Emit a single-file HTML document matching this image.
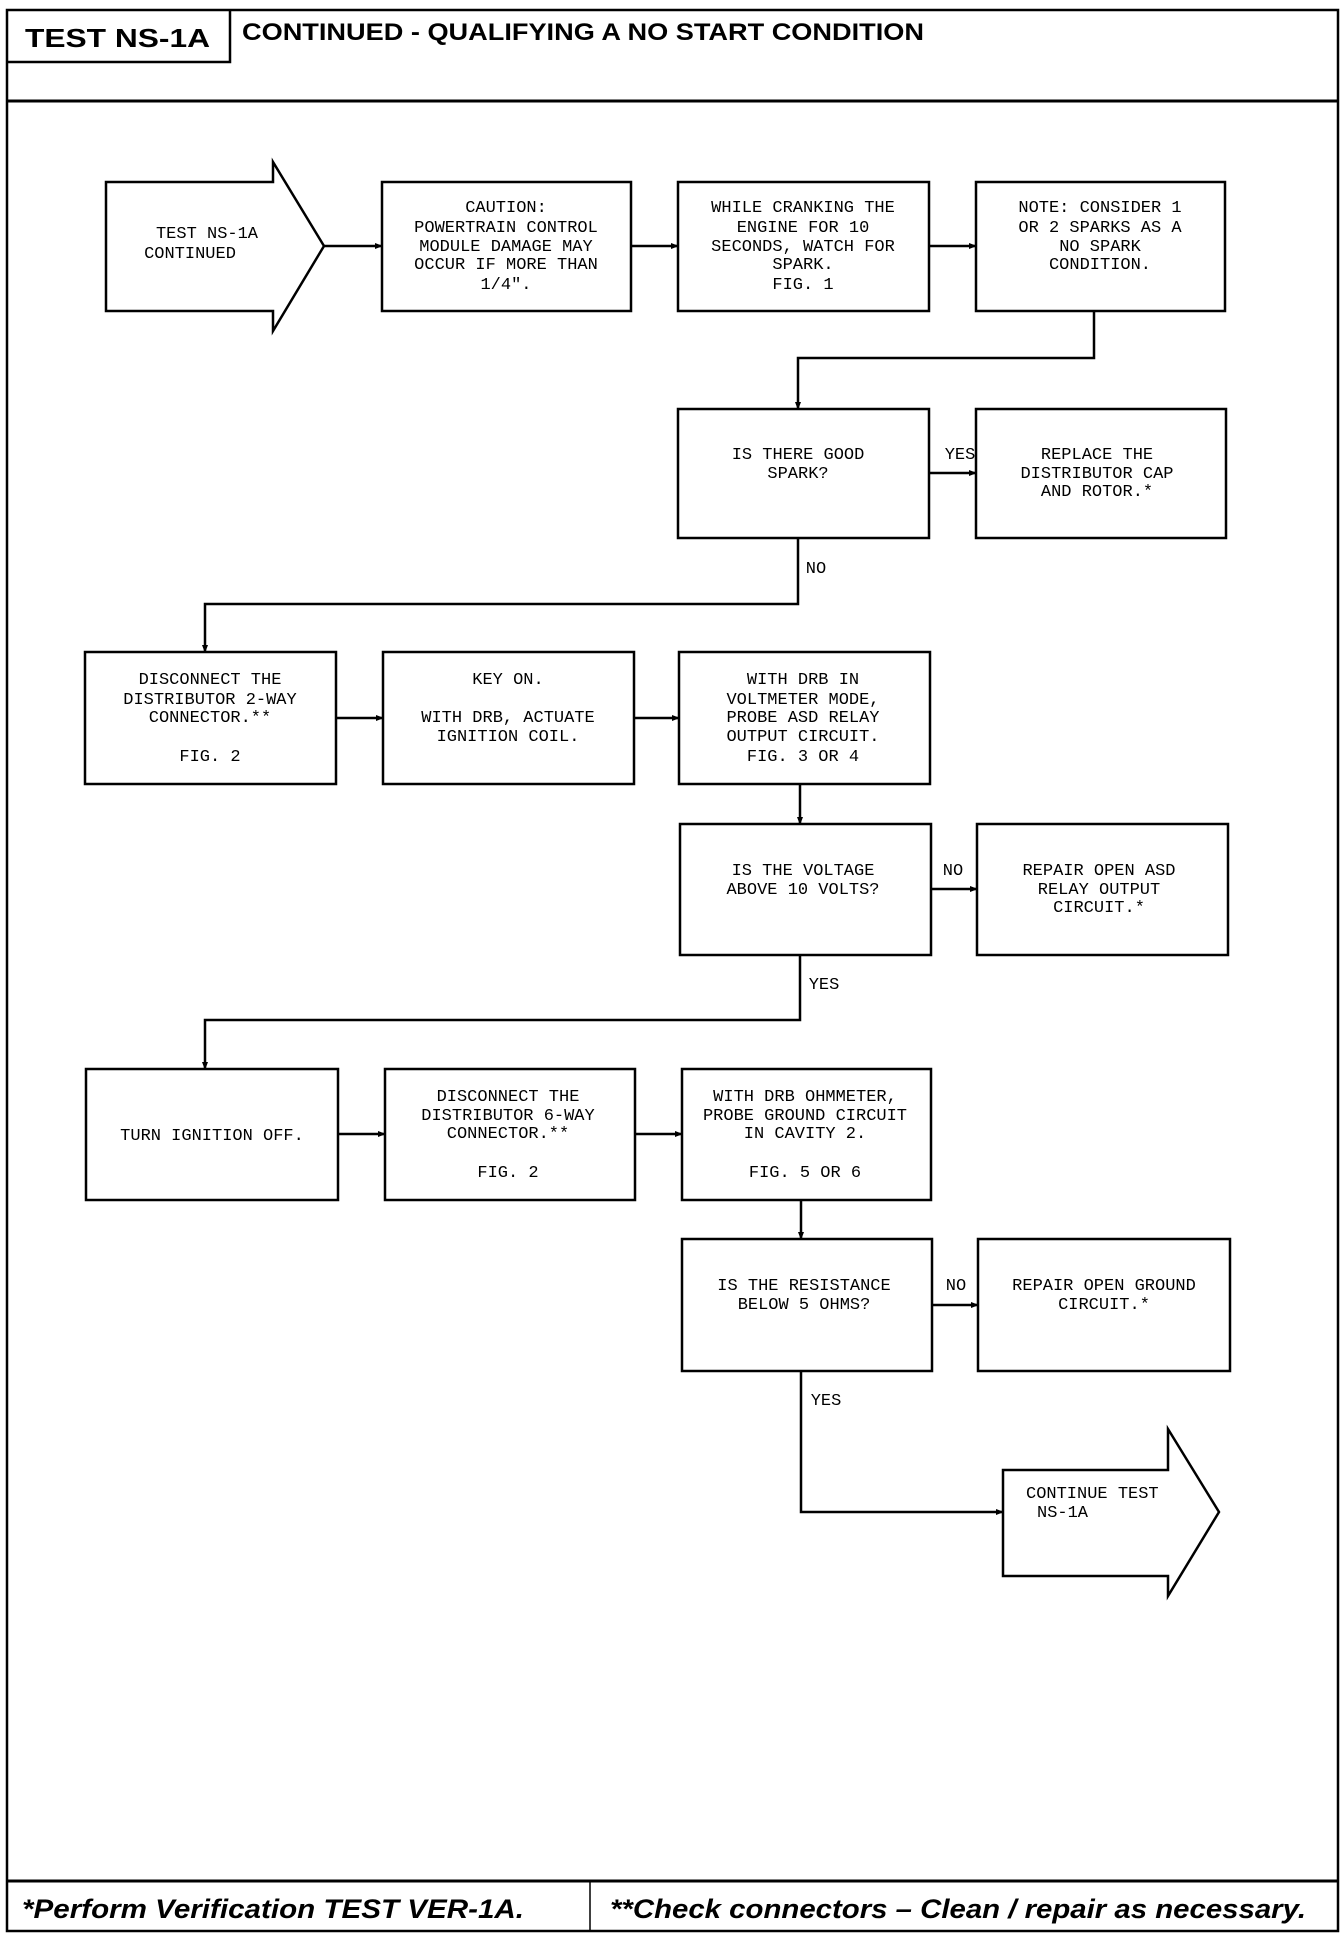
<!DOCTYPE html>
<html><head><meta charset="utf-8"><style>
html,body{margin:0;padding:0;background:#fff}
svg{display:block}
.t{font-family:"Liberation Mono",monospace;font-size:17px;fill:#000;text-anchor:middle}
.h{font-family:"Liberation Sans",sans-serif;font-weight:bold;fill:#000}
</style></head><body>
<svg width="1344" height="1934" viewBox="0 0 1344 1934" xmlns="http://www.w3.org/2000/svg">
<defs><marker id="a" markerWidth="8" markerHeight="8" refX="7" refY="4" orient="auto" markerUnits="userSpaceOnUse"><path d="M0,1 L8,4 L0,7 z" fill="#000"/></marker></defs>
<g fill="none" stroke="#000" stroke-width="2.5">
<rect x="7" y="10" width="1331" height="1921"/>
<line x1="7" y1="101" x2="1338" y2="101" stroke-width="3"/>
<polyline points="7,62 230,62 230,10"/>
<line x1="7" y1="1881" x2="1338" y2="1881" stroke-width="3"/>
<line x1="590" y1="1881" x2="590" y2="1931" stroke-width="1.5"/>
<!-- start arrow -->
<path d="M106,182 H273 V162 L324,246 L273,331 V311 H106 Z"/>
<rect x="382" y="182" width="249" height="129"/>
<rect x="678" y="182" width="251" height="129"/>
<rect x="976" y="182" width="249" height="129"/>
<rect x="678" y="409" width="251" height="129"/>
<rect x="976" y="409" width="250" height="129"/>
<rect x="85" y="652" width="251" height="132"/>
<rect x="383" y="652" width="251" height="132"/>
<rect x="679" y="652" width="251" height="132"/>
<rect x="680" y="824" width="251" height="131"/>
<rect x="977" y="824" width="251" height="131"/>
<rect x="86" y="1069" width="252" height="131"/>
<rect x="385" y="1069" width="250" height="131"/>
<rect x="682" y="1069" width="249" height="131"/>
<rect x="682" y="1239" width="250" height="132"/>
<rect x="978" y="1239" width="252" height="132"/>
<path d="M1003,1470 H1168 V1429 L1219,1512 L1168,1596 V1576 H1003 Z"/>
</g>
<g fill="none" stroke="#000" stroke-width="2.5" marker-end="url(#a)">
<line x1="324" y1="246" x2="382" y2="246"/>
<line x1="631" y1="246" x2="678" y2="246"/>
<line x1="929" y1="246" x2="976" y2="246"/>
<polyline points="1094,311 1094,358 798,358 798,409"/>
<line x1="929" y1="473" x2="976" y2="473"/>
<polyline points="798,538 798,604 205,604 205,652"/>
<line x1="336" y1="718" x2="383" y2="718"/>
<line x1="634" y1="718" x2="679" y2="718"/>
<line x1="800" y1="784" x2="800" y2="824"/>
<line x1="931" y1="889" x2="977" y2="889"/>
<polyline points="800,955 800,1020 205,1020 205,1069"/>
<line x1="338" y1="1134" x2="385" y2="1134"/>
<line x1="635" y1="1134" x2="682" y2="1134"/>
<line x1="801" y1="1200" x2="801" y2="1239"/>
<line x1="932" y1="1305" x2="978" y2="1305"/>
<polyline points="801,1371 801,1512 1003,1512"/>
</g>
<text class="h" x="25" y="47" font-size="26" textLength="185" lengthAdjust="spacingAndGlyphs">TEST NS-1A</text>
<text class="h" x="242" y="40" font-size="24" textLength="682" lengthAdjust="spacingAndGlyphs">CONTINUED -  QUALIFYING A NO START CONDITION</text>
<text class="h" x="22" y="1918" font-size="27" font-style="italic" textLength="502" lengthAdjust="spacingAndGlyphs">*Perform Verification TEST VER-1A.</text>
<text class="h" x="610" y="1918" font-size="27" font-style="italic" textLength="696" lengthAdjust="spacingAndGlyphs">**Check connectors – Clean / repair as necessary.</text>
<g class="t">
<text x="207" y="238">TEST NS-1A</text><text x="190" y="258">CONTINUED</text>
<text x="506" y="212">CAUTION:</text><text x="506" y="232">POWERTRAIN CONTROL</text><text x="506" y="251">MODULE DAMAGE MAY</text><text x="506" y="269">OCCUR IF MORE THAN</text><text x="506" y="289">1/4".</text>
<text x="803" y="212">WHILE CRANKING THE</text><text x="803" y="232">ENGINE FOR 10</text><text x="803" y="251">SECONDS, WATCH FOR</text><text x="803" y="269">SPARK.</text><text x="803" y="289">FIG. 1</text>
<text x="1100" y="212">NOTE: CONSIDER 1</text><text x="1100" y="232">OR 2 SPARKS AS A</text><text x="1100" y="251">NO SPARK</text><text x="1100" y="269">CONDITION.</text>
<text x="798" y="459">IS THERE GOOD</text><text x="798" y="478">SPARK?</text>
<text x="960" y="459">YES</text>
<text x="1097" y="459">REPLACE THE</text><text x="1097" y="478">DISTRIBUTOR CAP</text><text x="1097" y="496">AND ROTOR.*</text>
<text x="816" y="573">NO</text>
<text x="210" y="684">DISCONNECT THE</text><text x="210" y="704">DISTRIBUTOR 2-WAY</text><text x="210" y="722">CONNECTOR.**</text><text x="210" y="761">FIG. 2</text>
<text x="508" y="684">KEY ON.</text><text x="508" y="722">WITH DRB, ACTUATE</text><text x="508" y="741">IGNITION COIL.</text>
<text x="803" y="684">WITH DRB IN</text><text x="803" y="704">VOLTMETER MODE,</text><text x="803" y="722">PROBE ASD RELAY</text><text x="803" y="741">OUTPUT CIRCUIT.</text><text x="803" y="761">FIG. 3 OR 4</text>
<text x="803" y="875">IS THE VOLTAGE</text><text x="803" y="894">ABOVE 10 VOLTS?</text>
<text x="953" y="875">NO</text>
<text x="1099" y="875">REPAIR OPEN ASD</text><text x="1099" y="894">RELAY OUTPUT</text><text x="1099" y="912">CIRCUIT.*</text>
<text x="824" y="989">YES</text>
<text x="212" y="1140">TURN IGNITION OFF.</text>
<text x="508" y="1101">DISCONNECT THE</text><text x="508" y="1120">DISTRIBUTOR 6-WAY</text><text x="508" y="1138">CONNECTOR.**</text><text x="508" y="1177">FIG. 2</text>
<text x="805" y="1101">WITH DRB OHMMETER,</text><text x="805" y="1120">PROBE GROUND CIRCUIT</text><text x="805" y="1138">IN CAVITY 2.</text><text x="805" y="1177">FIG. 5 OR 6</text>
<text x="804" y="1290">IS THE RESISTANCE</text><text x="804" y="1309">BELOW 5 OHMS?</text>
<text x="956" y="1290">NO</text>
<text x="1104" y="1290">REPAIR OPEN GROUND</text><text x="1104" y="1309">CIRCUIT.*</text>
<text x="826" y="1405">YES</text>
<text x="1026" y="1498" text-anchor="start">CONTINUE TEST</text><text x="1037" y="1517" text-anchor="start">NS-1A</text>
</g>
</svg>
</body></html>
